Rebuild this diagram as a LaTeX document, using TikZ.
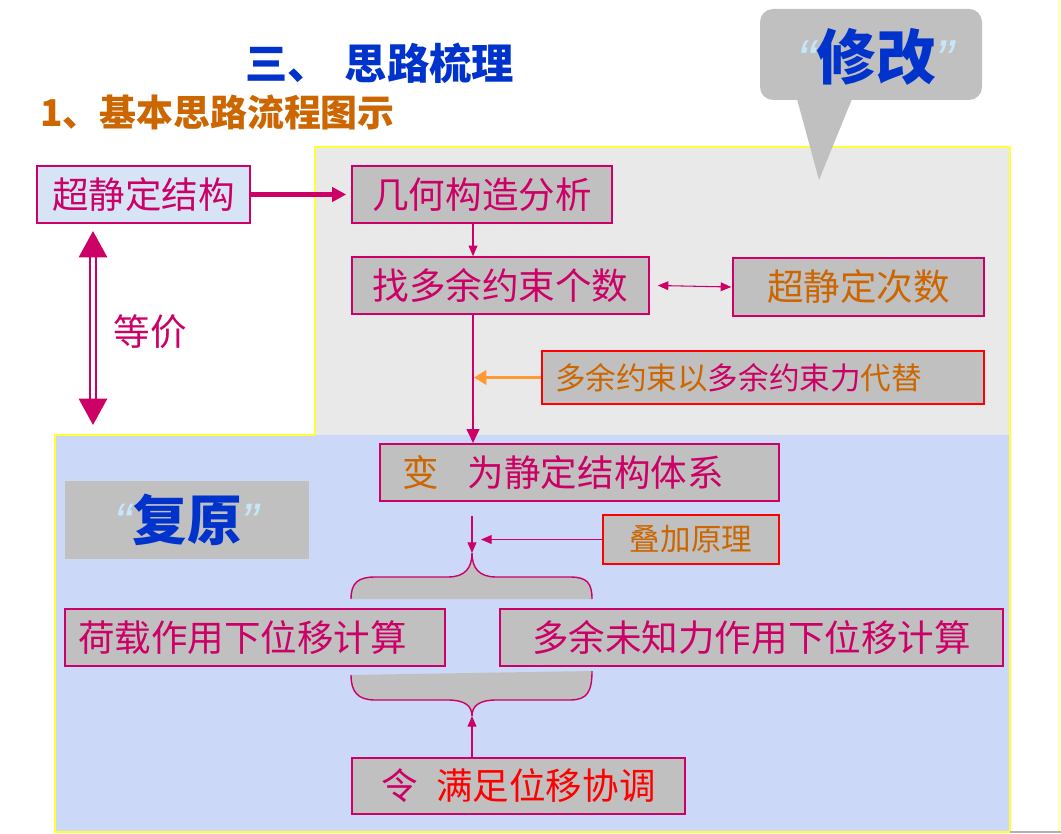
\documentclass[tikz,border=0pt]{standalone}
\usepackage{fontspec}
\setmainfont{Noto Sans CJK SC}
\newfontfamily\quotefont{Liberation Sans}
\usetikzlibrary{arrows.meta, positioning, calc}
\definecolor{zmag}{HTML}{CC0066}
\definecolor{zorange}{HTML}{CC6600}
\definecolor{zlorange}{HTML}{FF9933}
\definecolor{zblue}{HTML}{0033CC}
\definecolor{zquote}{HTML}{C4E8FA}
\definecolor{zbox}{HTML}{C0C0C0}
\definecolor{zgrayarea}{HTML}{E9E9E9}
\definecolor{zbluearea}{HTML}{CBD8F7}
\definecolor{zlightbox}{HTML}{D7E4F5}
\definecolor{zyellow}{HTML}{FFFF33}
\newcommand{\zquotemark}[2]{{\color{zquote}\quotefont\itshape\fontsize{#1}{#1}\selectfont #2}}

\tikzset{
  flowbox/.style={draw=zmag, line width=0.9pt, fill=zbox, text=zmag, inner sep=0pt,
    minimum height=1.14cm, font=\fontsize{20.8}{24}\selectfont},
  smallbox/.style={flowbox, draw=red, font=\fontsize{17.4}{21}\selectfont},
  thinarrow/.style={draw=zmag, line width=0.6pt, -{Triangle[length=6pt,width=5pt]}},
}

\begin{document}
\begin{tikzpicture}[x=0.02cm, y=-0.02cm]
    \useasboundingbox (0,0) rectangle (1061,834);
    \fill[white] (0,0) rectangle (1061,834);
    % background areas
    \fill[zgrayarea] (315,147) rectangle (1010,435);
    \fill[zbluearea] (55,435) rectangle (1010,832);
    \draw[zyellow, line width=0.6pt] (315,435) -- (315,147) -- (1010,147) -- (1010,832) -- (55,832) -- (55,435) -- (315,435);
    \draw[zyellow!40, line width=0.8pt] (1059,0) -- (1059,832);
    \draw[gray!60, line width=0.6pt] (1010,832) -- (1061,832);

    % titles
    \node[anchor=west, text=zblue, font=\bfseries\fontsize{24.1}{28}\selectfont] (title) at (239,63) {三、\hspace{0.35em}思路梳理};
    \node[anchor=west, text=zorange, font=\bfseries\fontsize{21}{25}\selectfont] (subtitle) at (34,112) {1、基本思路流程图示};

    % callout
    \fill[zbox, rounded corners=0.26cm] (760,9) rectangle (982,100);
    \fill[zbox] (797,99) -- (852,99) -- (819,180) -- cycle;
    \node (xiugai) at (876,57) {\zquotemark{32}{“}{\color{zblue}\bfseries\fontsize{34}{40}\selectfont 修改}\zquotemark{32}{”}};

    % boxes
    \node[flowbox, fill=zlightbox, minimum width=4.26cm] (jiegou) at (143.5,194.5) {超静定结构};
    \node[flowbox, minimum width=5.2cm] (jihe) at (482,194.5) {几何构造分析\hspace{0.4em}};
    \node[flowbox, minimum width=5.94cm] (zhao) at (500.5,285.5) {找多余约束个数};
    \node[flowbox, text=zorange, minimum width=5.02cm, minimum height=1.16cm] (cishu) at (858.5,287) {超静定次数};
    \node[smallbox, line width=1.6pt, minimum height=1.06cm, text width=8.32cm, inner xsep=0.26cm, align=left] (daiti) at (763,377.5)
      {{\color{zorange}多余约束以}多余约束力{\color{zorange}代替}};
    \node[flowbox, minimum height=1.14cm, text width=7.1cm, inner xsep=0.44cm, align=left] (bian) at (579.5,472.5)
      {{\color{zorange}变}\hspace{0.8em}为静定结构体系};
    \node[smallbox, text=zorange, minimum width=3.52cm, minimum height=0.98cm] (diejia) at (691,539.5) {叠加原理};
    \node[fill=zbox, minimum width=4.88cm, minimum height=1.56cm, inner sep=0pt] (fuyuan) at (187,520)
      {\zquotemark{30}{“}{\color{zblue}\bfseries\fontsize{31}{36}\selectfont 复原}\zquotemark{30}{”}};
    \node[flowbox, minimum height=1.14cm, text width=7.08cm, inner xsep=0.26cm, align=left] (hezai) at (255,637.5) {荷载作用下位移计算};
    \node[flowbox, minimum width=10.06cm] (duoyu) at (751.5,637.5) {多余未知力作用下位移计算\hspace{0.3em}};
    \node[flowbox, text=red, minimum width=6.66cm, minimum height=1.12cm] (ling) at (518.5,786) {{\color{zmag}令}\hspace{0.5em}满足位移协调\hspace{1em}};

    % braces
    \coordinate (spine) at (473,0);
    \coordinate (topbrace) at (472,553);
    \coordinate (botbrace) at (472,716);
    \fill[zbox] (351,599) .. controls (351,583) and (358,577) .. (375,577) -- (448,577)
      .. controls (465,577) and (472,568) .. (topbrace) .. controls (472,568) and (479,577) .. (496,577)
      -- (570,577) .. controls (587,577) and (592,583) .. (592,599) -- cycle;
    \draw[zmag, line width=0.8pt] (351,599) .. controls (351,583) and (358,577) .. (375,577) -- (448,577)
      .. controls (465,577) and (472,568) .. (topbrace) .. controls (472,568) and (479,577) .. (496,577)
      -- (570,577) .. controls (587,577) and (592,583) .. (592,599);
    \fill[zbox] (351,675) .. controls (351,692) and (358,700) .. (375,700) -- (448,700)
      .. controls (465,700) and (472,706) .. (botbrace) .. controls (472,706) and (479,700) .. (496,700)
      -- (570,700) .. controls (587,700) and (592,692) .. (592,671) -- cycle;
    \draw[zmag, line width=0.8pt] (351,675) .. controls (351,692) and (358,700) .. (375,700) -- (448,700)
      .. controls (465,700) and (472,706) .. (botbrace) .. controls (472,706) and (479,700) .. (496,700)
      -- (570,700) .. controls (587,700) and (592,692) .. (592,671);

    % connectors
    \draw[zmag, line width=2.6pt, -{Triangle[length=8pt,width=8pt]}] (jiegou.east) -- ($(jihe.west)+(-5,0)$);
    \draw[thinarrow] (jihe.south -| spine) -- (zhao.north -| spine);
    \draw[thinarrow, {Triangle[length=6pt,width=5pt]}-{Triangle[length=6pt,width=5pt]}] ($(zhao.east)+(8,0)$) -- ($(cishu.west)+(-1,0)$);
    \draw[zmag, line width=1.5pt, -{Triangle[length=8pt,width=7pt]}] (zhao.south -| spine) -- (bian.north -| spine);
    \draw[zlorange, line width=2.2pt, -{Triangle[length=7pt,width=8pt]}] (daiti.west) -- ($(daiti.west -| spine)+(1,0)$);
    \draw[thinarrow] ($(bian.south -| topbrace)+(0,14)$) -- (topbrace);
    \draw[thinarrow] (diejia.west) -- ($(diejia.west -| spine)+(8,0)$);
    \draw[thinarrow] (ling.north -| botbrace) -- (botbrace);

    % equivalence arrow
    \coordinate (eqtop) at (93,231);
    \coordinate (eqbot) at (93,425);
    \draw[zmag, line width=1.5pt, double=white, double distance=2pt,
      {Triangle[length=15pt,width=16pt]}-{Triangle[length=15pt,width=16pt]}] (eqtop) -- (eqbot);
    \node[text=zmag, font=\fontsize{20.8}{24}\selectfont] (dengjia) at (150,332) {等价};
\end{tikzpicture}
\end{document}
